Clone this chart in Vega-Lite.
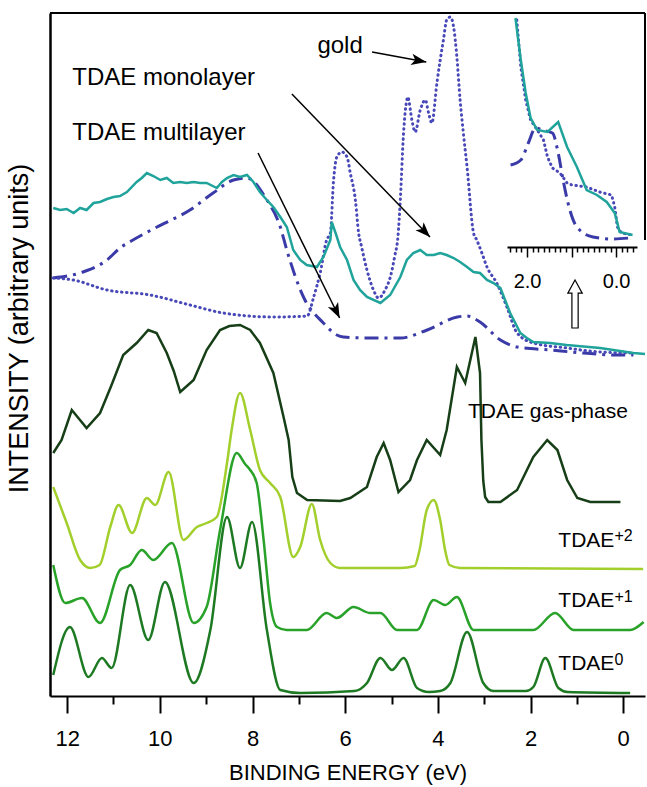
{
  "$schema": "https://vega.github.io/schema/vega-lite/v6.json",
  "width": 595,
  "height": 683,
  "autosize": {"type": "none"},
  "padding": {"left": 50, "top": 13, "right": 2, "bottom": 91},
  "config": {"font": "Liberation Sans", "view": {"stroke": null}, "axis": {"grid": false}},
  "datasets": {
    "spectra": [
      {"s":"gold","e":12.30,"i":418},{"s":"gold","e":11.87,"i":416},{"s":"gold","e":11.14,"i":406},{"s":"gold","e":10.21,"i":401},{"s":"gold","e":9.35,"i":391},{"s":"gold","e":8.63,"i":383},{"s":"gold","e":7.55,"i":379},{"s":"gold","e":6.82,"i":380},{"s":"gold","e":6.68,"i":399},{"s":"gold","e":6.54,"i":423},{"s":"gold","e":6.40,"i":456},{"s":"gold","e":6.32,"i":463},{"s":"gold","e":6.25,"i":516},{"s":"gold","e":6.18,"i":539},{"s":"gold","e":6.07,"i":544},{"s":"gold","e":5.96,"i":539},{"s":"gold","e":5.89,"i":523},{"s":"gold","e":5.78,"i":496},{"s":"gold","e":5.71,"i":463},{"s":"gold","e":5.65,"i":450},{"s":"gold","e":5.53,"i":426},{"s":"gold","e":5.39,"i":406},{"s":"gold","e":5.28,"i":398},{"s":"gold","e":5.14,"i":406},{"s":"gold","e":5.02,"i":420},{"s":"gold","e":4.93,"i":440},{"s":"gold","e":4.86,"i":460},{"s":"gold","e":4.81,"i":496},{"s":"gold","e":4.74,"i":563},{"s":"gold","e":4.67,"i":596},{"s":"gold","e":4.65,"i":599},{"s":"gold","e":4.56,"i":576},{"s":"gold","e":4.49,"i":564},{"s":"gold","e":4.38,"i":586},{"s":"gold","e":4.27,"i":596},{"s":"gold","e":4.20,"i":583},{"s":"gold","e":4.13,"i":573},{"s":"gold","e":4.02,"i":613},{"s":"gold","e":3.95,"i":636},{"s":"gold","e":3.88,"i":656},{"s":"gold","e":3.81,"i":676},{"s":"gold","e":3.73,"i":679},{"s":"gold","e":3.66,"i":669},{"s":"gold","e":3.59,"i":639},{"s":"gold","e":3.52,"i":596},{"s":"gold","e":3.45,"i":563},{"s":"gold","e":3.37,"i":529},{"s":"gold","e":3.23,"i":463},{"s":"gold","e":3.16,"i":456},{"s":"gold","e":3.05,"i":443},{"s":"gold","e":2.94,"i":429},{"s":"gold","e":2.73,"i":413},{"s":"gold","e":2.51,"i":389},{"s":"gold","e":2.29,"i":363},{"s":"gold","e":1.94,"i":353},{"s":"gold","e":1.22,"i":348},{"s":"gold","e":0.50,"i":344},{"s":"gold","e":-0.22,"i":343},
      {"s":"teal","e":12.30,"i":488},{"s":"teal","e":12.15,"i":486},{"s":"teal","e":12.01,"i":487},{"s":"teal","e":11.86,"i":483},{"s":"teal","e":11.72,"i":488},{"s":"teal","e":11.58,"i":486},{"s":"teal","e":11.43,"i":493},{"s":"teal","e":11.29,"i":494},{"s":"teal","e":11.14,"i":497},{"s":"teal","e":11.00,"i":499},{"s":"teal","e":10.86,"i":500},{"s":"teal","e":10.71,"i":504},{"s":"teal","e":10.50,"i":514},{"s":"teal","e":10.39,"i":518},{"s":"teal","e":10.28,"i":523},{"s":"teal","e":10.14,"i":520},{"s":"teal","e":9.99,"i":516},{"s":"teal","e":9.85,"i":518},{"s":"teal","e":9.71,"i":513},{"s":"teal","e":9.56,"i":514},{"s":"teal","e":9.42,"i":513},{"s":"teal","e":9.27,"i":514},{"s":"teal","e":9.13,"i":513},{"s":"teal","e":8.99,"i":513},{"s":"teal","e":8.77,"i":508},{"s":"teal","e":8.66,"i":514},{"s":"teal","e":8.55,"i":518},{"s":"teal","e":8.41,"i":521},{"s":"teal","e":8.27,"i":519},{"s":"teal","e":8.12,"i":521},{"s":"teal","e":7.98,"i":514},{"s":"teal","e":7.84,"i":504},{"s":"teal","e":7.69,"i":496},{"s":"teal","e":7.55,"i":489},{"s":"teal","e":7.40,"i":479},{"s":"teal","e":7.26,"i":469},{"s":"teal","e":7.12,"i":446},{"s":"teal","e":6.97,"i":436},{"s":"teal","e":6.83,"i":431},{"s":"teal","e":6.61,"i":429},{"s":"teal","e":6.47,"i":439},{"s":"teal","e":6.32,"i":456},{"s":"teal","e":6.29,"i":474},{"s":"teal","e":6.20,"i":462},{"s":"teal","e":6.11,"i":449},{"s":"teal","e":5.96,"i":436},{"s":"teal","e":5.82,"i":416},{"s":"teal","e":5.68,"i":406},{"s":"teal","e":5.53,"i":399},{"s":"teal","e":5.24,"i":393},{"s":"teal","e":5.03,"i":401},{"s":"teal","e":4.81,"i":419},{"s":"teal","e":4.67,"i":436},{"s":"teal","e":4.53,"i":443},{"s":"teal","e":4.38,"i":446},{"s":"teal","e":4.24,"i":441},{"s":"teal","e":4.09,"i":441},{"s":"teal","e":3.95,"i":443},{"s":"teal","e":3.81,"i":441},{"s":"teal","e":3.66,"i":438},{"s":"teal","e":3.52,"i":434},{"s":"teal","e":3.37,"i":429},{"s":"teal","e":3.23,"i":424},{"s":"teal","e":3.09,"i":423},{"s":"teal","e":2.94,"i":416},{"s":"teal","e":2.80,"i":413},{"s":"teal","e":2.65,"i":408},{"s":"teal","e":2.55,"i":396},{"s":"teal","e":2.44,"i":383},{"s":"teal","e":2.22,"i":363},{"s":"teal","e":2.08,"i":358},{"s":"teal","e":1.94,"i":354},{"s":"teal","e":1.58,"i":353},{"s":"teal","e":1.22,"i":351},{"s":"teal","e":0.50,"i":348},{"s":"teal","e":-0.22,"i":343},{"s":"teal","e":-0.47,"i":342},
      {"s":"multi","e":12.30,"i":418},{"s":"multi","e":11.66,"i":424},{"s":"multi","e":11.14,"i":436},{"s":"multi","e":10.86,"i":448},{"s":"multi","e":10.58,"i":456},{"s":"multi","e":10.06,"i":469},{"s":"multi","e":9.35,"i":486},{"s":"multi","e":8.85,"i":503},{"s":"multi","e":8.41,"i":516},{"s":"multi","e":8.12,"i":518},{"s":"multi","e":7.69,"i":496},{"s":"multi","e":7.40,"i":469},{"s":"multi","e":7.26,"i":446},{"s":"multi","e":6.90,"i":399},{"s":"multi","e":6.47,"i":373},{"s":"multi","e":6.18,"i":361},{"s":"multi","e":6.04,"i":359},{"s":"multi","e":5.53,"i":358},{"s":"multi","e":4.81,"i":358},{"s":"multi","e":4.23,"i":366},{"s":"multi","e":3.58,"i":379},{"s":"multi","e":3.37,"i":380},{"s":"multi","e":3.09,"i":374},{"s":"multi","e":2.65,"i":356},{"s":"multi","e":2.29,"i":349},{"s":"multi","e":1.58,"i":346},{"s":"multi","e":0.86,"i":343},{"s":"multi","e":0.13,"i":341},{"s":"multi","e":-0.22,"i":341},
      {"s":"gas","e":12.30,"i":243},{"s":"gas","e":12.12,"i":256},{"s":"gas","e":11.90,"i":286},{"s":"gas","e":11.58,"i":268},{"s":"gas","e":11.29,"i":283},{"s":"gas","e":11.05,"i":310},{"s":"gas","e":10.79,"i":341},{"s":"gas","e":10.50,"i":353},{"s":"gas","e":10.25,"i":366},{"s":"gas","e":10.07,"i":363},{"s":"gas","e":9.85,"i":343},{"s":"gas","e":9.70,"i":325},{"s":"gas","e":9.56,"i":304},{"s":"gas","e":9.27,"i":316},{"s":"gas","e":8.99,"i":346},{"s":"gas","e":8.70,"i":366},{"s":"gas","e":8.50,"i":370},{"s":"gas","e":8.27,"i":371},{"s":"gas","e":8.05,"i":366},{"s":"gas","e":7.84,"i":353},{"s":"gas","e":7.55,"i":323},{"s":"gas","e":7.33,"i":279},{"s":"gas","e":7.22,"i":256},{"s":"gas","e":7.14,"i":219},{"s":"gas","e":7.04,"i":203},{"s":"gas","e":6.82,"i":196},{"s":"gas","e":6.11,"i":195},{"s":"gas","e":5.89,"i":198},{"s":"gas","e":5.53,"i":209},{"s":"gas","e":5.32,"i":239},{"s":"gas","e":5.17,"i":253},{"s":"gas","e":5.03,"i":236},{"s":"gas","e":4.85,"i":204},{"s":"gas","e":4.60,"i":216},{"s":"gas","e":4.45,"i":236},{"s":"gas","e":4.24,"i":256},{"s":"gas","e":3.95,"i":241},{"s":"gas","e":3.81,"i":266},{"s":"gas","e":3.59,"i":329},{"s":"gas","e":3.41,"i":313},{"s":"gas","e":3.19,"i":359},{"s":"gas","e":3.09,"i":323},{"s":"gas","e":3.06,"i":256},{"s":"gas","e":3.02,"i":215},{"s":"gas","e":2.98,"i":199},{"s":"gas","e":2.91,"i":194},{"s":"gas","e":2.65,"i":194},{"s":"gas","e":2.29,"i":206},{"s":"gas","e":1.94,"i":239},{"s":"gas","e":1.64,"i":256},{"s":"gas","e":1.42,"i":246},{"s":"gas","e":1.21,"i":216},{"s":"gas","e":0.99,"i":198},{"s":"gas","e":0.71,"i":194},{"s":"gas","e":0.06,"i":194},
      {"s":"p2","e":12.30,"i":209},{"s":"p2","e":12.01,"i":173},{"s":"p2","e":11.72,"i":136},{"s":"p2","e":11.50,"i":128},{"s":"p2","e":11.30,"i":131},{"s":"p2","e":11.07,"i":169},{"s":"p2","e":10.89,"i":191},{"s":"p2","e":10.60,"i":163},{"s":"p2","e":10.28,"i":198},{"s":"p2","e":10.10,"i":191},{"s":"p2","e":9.81,"i":224},{"s":"p2","e":9.49,"i":156},{"s":"p2","e":9.20,"i":169},{"s":"p2","e":8.99,"i":173},{"s":"p2","e":8.77,"i":179},{"s":"p2","e":8.55,"i":233},{"s":"p2","e":8.45,"i":266},{"s":"p2","e":8.27,"i":303},{"s":"p2","e":8.05,"i":266},{"s":"p2","e":7.84,"i":226},{"s":"p2","e":7.62,"i":213},{"s":"p2","e":7.40,"i":199},{"s":"p2","e":7.12,"i":139},{"s":"p2","e":6.97,"i":149},{"s":"p2","e":6.72,"i":192},{"s":"p2","e":6.54,"i":156},{"s":"p2","e":6.32,"i":133},{"s":"p2","e":6.11,"i":128},{"s":"p2","e":4.81,"i":128},{"s":"p2","e":4.50,"i":130},{"s":"p2","e":4.40,"i":145},{"s":"p2","e":4.24,"i":186},{"s":"p2","e":4.09,"i":196},{"s":"p2","e":3.95,"i":176},{"s":"p2","e":3.84,"i":145},{"s":"p2","e":3.75,"i":131},{"s":"p2","e":3.52,"i":128},{"s":"p2","e":-0.43,"i":127},
      {"s":"p1","e":12.30,"i":131},{"s":"p1","e":12.04,"i":93},{"s":"p1","e":11.68,"i":98},{"s":"p1","e":11.29,"i":73},{"s":"p1","e":10.86,"i":126},{"s":"p1","e":10.64,"i":131},{"s":"p1","e":10.39,"i":146},{"s":"p1","e":10.14,"i":136},{"s":"p1","e":9.74,"i":153},{"s":"p1","e":9.27,"i":73},{"s":"p1","e":8.99,"i":89},{"s":"p1","e":8.70,"i":166},{"s":"p1","e":8.34,"i":243},{"s":"p1","e":8.16,"i":232},{"s":"p1","e":8.05,"i":226},{"s":"p1","e":7.91,"i":213},{"s":"p1","e":7.76,"i":156},{"s":"p1","e":7.62,"i":93},{"s":"p1","e":7.47,"i":69},{"s":"p1","e":7.26,"i":66},{"s":"p1","e":6.83,"i":66},{"s":"p1","e":6.40,"i":83},{"s":"p1","e":6.18,"i":78},{"s":"p1","e":5.82,"i":89},{"s":"p1","e":5.46,"i":83},{"s":"p1","e":5.24,"i":83},{"s":"p1","e":4.88,"i":66},{"s":"p1","e":4.45,"i":66},{"s":"p1","e":4.09,"i":96},{"s":"p1","e":3.84,"i":91},{"s":"p1","e":3.59,"i":99},{"s":"p1","e":3.23,"i":66},{"s":"p1","e":1.94,"i":66},{"s":"p1","e":1.47,"i":83},{"s":"p1","e":1.07,"i":66},{"s":"p1","e":-0.15,"i":66},{"s":"p1","e":-0.44,"i":74},
      {"s":"p0","e":12.30,"i":21},{"s":"p0","e":11.94,"i":69},{"s":"p0","e":11.54,"i":19},{"s":"p0","e":11.25,"i":38},{"s":"p0","e":11.04,"i":28},{"s":"p0","e":10.64,"i":111},{"s":"p0","e":10.25,"i":56},{"s":"p0","e":9.89,"i":114},{"s":"p0","e":9.27,"i":13},{"s":"p0","e":8.91,"i":66},{"s":"p0","e":8.55,"i":179},{"s":"p0","e":8.27,"i":128},{"s":"p0","e":8.01,"i":174},{"s":"p0","e":7.69,"i":66},{"s":"p0","e":7.40,"i":6},{"s":"p0","e":6.97,"i":3},{"s":"p0","e":5.80,"i":5},{"s":"p0","e":5.53,"i":13},{"s":"p0","e":5.24,"i":38},{"s":"p0","e":4.99,"i":26},{"s":"p0","e":4.74,"i":38},{"s":"p0","e":4.45,"i":8},{"s":"p0","e":4.20,"i":4},{"s":"p0","e":3.95,"i":5},{"s":"p0","e":3.73,"i":13},{"s":"p0","e":3.37,"i":64},{"s":"p0","e":3.02,"i":13},{"s":"p0","e":2.80,"i":5},{"s":"p0","e":2.10,"i":5},{"s":"p0","e":1.94,"i":9},{"s":"p0","e":1.68,"i":38},{"s":"p0","e":1.40,"i":8},{"s":"p0","e":1.20,"i":4},{"s":"p0","e":-0.15,"i":3}
    ],
    "inset": [
      {"s":"ig","e":2.23,"i":676},{"s":"ig","e":2.14,"i":629},{"s":"ig","e":2.03,"i":596},{"s":"ig","e":1.92,"i":576},{"s":"ig","e":1.77,"i":566},{"s":"ig","e":1.63,"i":556},{"s":"ig","e":1.54,"i":539},{"s":"ig","e":1.43,"i":528},{"s":"ig","e":1.26,"i":523},{"s":"ig","e":1.10,"i":513},{"s":"ig","e":0.99,"i":511},{"s":"ig","e":0.66,"i":509},{"s":"ig","e":0.37,"i":504},{"s":"ig","e":0.10,"i":501},{"s":"ig","e":0.03,"i":489},{"s":"ig","e":-0.03,"i":469},{"s":"ig","e":-0.12,"i":463},{"s":"ig","e":-0.37,"i":461},
      {"s":"it","e":2.26,"i":678},{"s":"it","e":2.14,"i":636},{"s":"it","e":2.03,"i":603},{"s":"it","e":1.92,"i":578},{"s":"it","e":1.77,"i":566},{"s":"it","e":1.54,"i":564},{"s":"it","e":1.30,"i":574},{"s":"it","e":1.10,"i":549},{"s":"it","e":0.88,"i":529},{"s":"it","e":0.66,"i":506},{"s":"it","e":0.43,"i":501},{"s":"it","e":0.21,"i":494},{"s":"it","e":0.03,"i":483},{"s":"it","e":-0.08,"i":464},{"s":"it","e":-0.37,"i":461},
      {"s":"im","e":2.37,"i":531},{"s":"im","e":2.14,"i":536},{"s":"im","e":1.97,"i":553},{"s":"im","e":1.81,"i":568},{"s":"im","e":1.66,"i":566},{"s":"im","e":1.43,"i":563},{"s":"im","e":1.30,"i":543},{"s":"im","e":1.19,"i":516},{"s":"im","e":1.08,"i":493},{"s":"im","e":0.88,"i":469},{"s":"im","e":0.52,"i":459},{"s":"im","e":0.08,"i":457},{"s":"im","e":-0.30,"i":458}
    ],
    "frame": [
      {"e": 12.37, "e2": -0.47, "i": 683, "i2": 683},
      {"e": -0.47, "e2": -0.47, "i": 683, "i2": 456}
    ],
    "arrows": [
      {"a": "gold", "e": 5.42, "i": 644, "e2": 4.25, "i2": 634},
      {"a": "mono", "e": 7.15, "i": 602, "e2": 4.17, "i2": 459},
      {"a": "multi", "e": 7.88, "i": 543, "e2": 6.12, "i2": 378}
    ],
    "hollow": [{"e": 1.04, "i": 392}],
    "labels": [
      {"g": "big", "t": "gold", "e": 6.60, "i": 643},
      {"g": "big", "t": "TDAE monolayer", "e": 11.89, "i": 611},
      {"g": "big", "t": "TDAE multilayer", "e": 11.89, "i": 556},
      {"g": "mid", "t": "TDAE gas-phase", "e": 3.35, "i": 278},
      {"g": "mid", "t": "TDAE", "e": 1.40, "i": 149},
      {"g": "mid", "t": "TDAE", "e": 1.40, "i": 89},
      {"g": "mid", "t": "TDAE", "e": 1.40, "i": 26},
      {"g": "sup", "t": "+2", "e": 0.19, "i": 155},
      {"g": "sup", "t": "+1", "e": 0.19, "i": 94},
      {"g": "sup", "t": "0", "e": 0.19, "i": 31}
    ]
  },
  "layer": [
    {
      "encoding": {
        "x": {"field": "e", "type": "quantitative",
          "scale": {"domain": [-0.47, 12.37], "reverse": true, "nice": false, "zero": false},
          "axis": {"title": "BINDING ENERGY (eV)", "values": [0,1,2,3,4,5,6,7,8,9,10,11,12],
            "labelExpr": "datum.value % 2 === 0 ? datum.label : ''",
            "tickSize": {"condition": {"test": "datum.value % 2 !== 0", "value": 8}, "value": 17},
            "tickWidth": 2, "tickColor": "black", "domainColor": "black", "domainWidth": 2,
            "labelFontSize": 22, "labelColor": "black", "labelPadding": 15, "labelFlush": false, "labelOverlap": false,
            "titleFontSize": 22, "titleFontWeight": "normal", "titleColor": "black", "titlePadding": 13}},
        "y": {"field": "i", "type": "quantitative",
          "scale": {"domain": [0, 683], "nice": false, "zero": false},
          "axis": {"title": "INTENSITY (arbitrary units)", "ticks": false, "labels": false,
            "domainColor": "black", "domainWidth": 2.5,
            "titleFontSize": 27, "titleFontWeight": "normal", "titleColor": "black",
            "titlePadding": 17, "titleY": 315}},
        "order": {"field": "e", "sort": "descending"}
      },
      "layer": [
        {"data": {"name": "frame"}, "mark": {"type": "rule", "color": "black", "strokeWidth": 2},
         "encoding": {"x2": {"field": "e2"}, "y2": {"field": "i2"}}},
        {"data": {"name": "spectra"}, "transform": [{"filter": "datum.s === 'multi'"}],
         "mark": {"type": "line", "color": "#3a3aa8", "strokeWidth": 3, "strokeDash": [14, 6, 3, 6], "interpolate": "monotone"}},
        {"data": {"name": "spectra"}, "transform": [{"filter": "datum.s === 'gold'"}],
         "mark": {"type": "line", "color": "#4848b8", "strokeWidth": 3, "strokeDash": [0.5, 4.5], "strokeCap": "round", "interpolate": "monotone"}},
        {"data": {"name": "spectra"}, "transform": [{"filter": "datum.s === 'teal'"}],
         "mark": {"type": "line", "color": "#1fa39b", "strokeWidth": 2.5}},
        {"data": {"name": "spectra"}, "transform": [{"filter": "datum.s === 'gas'"}],
         "mark": {"type": "line", "color": "#173f17", "strokeWidth": 2.5}},
        {"data": {"name": "spectra"}, "transform": [{"filter": "datum.s === 'p2'"}],
         "mark": {"type": "line", "color": "#a2cf2c", "strokeWidth": 2.5, "interpolate": "monotone"}},
        {"data": {"name": "spectra"}, "transform": [{"filter": "datum.s === 'p1'"}],
         "mark": {"type": "line", "color": "#28a228", "strokeWidth": 2.5, "interpolate": "monotone"}},
        {"data": {"name": "spectra"}, "transform": [{"filter": "datum.s === 'p0'"}],
         "mark": {"type": "line", "color": "#1e7a22", "strokeWidth": 2.5, "interpolate": "monotone"}},
        {"data": {"name": "arrows"}, "mark": {"type": "rule", "color": "black", "strokeWidth": 1.5},
         "encoding": {"x2": {"field": "e2"}, "y2": {"field": "i2"}}},
        {"data": {"name": "arrows"}, "transform": [{"filter": "datum.a === 'gold'"}],
         "mark": {"type": "point", "shape": "M 0 0 L -1 -0.38 L -0.75 0 L -1 0.38 Z", "size": 900, "filled": true, "color": "black", "opacity": 1, "angle": 10.4},
         "encoding": {"x": {"field": "e2", "type": "quantitative"}, "y": {"field": "i2", "type": "quantitative"}}},
        {"data": {"name": "arrows"}, "transform": [{"filter": "datum.a === 'mono'"}],
         "mark": {"type": "point", "shape": "M 0 0 L -1 -0.38 L -0.75 0 L -1 0.38 Z", "size": 900, "filled": true, "color": "black", "opacity": 1, "angle": 45.8},
         "encoding": {"x": {"field": "e2", "type": "quantitative"}, "y": {"field": "i2", "type": "quantitative"}}},
        {"data": {"name": "arrows"}, "transform": [{"filter": "datum.a === 'multi'"}],
         "mark": {"type": "point", "shape": "M 0 0 L -1 -0.38 L -0.75 0 L -1 0.38 Z", "size": 900, "filled": true, "color": "black", "opacity": 1, "angle": 63.7},
         "encoding": {"x": {"field": "e2", "type": "quantitative"}, "y": {"field": "i2", "type": "quantitative"}}},
        {"data": {"name": "hollow"},
         "mark": {"type": "point", "shape": "M 0 -1 L 0.3 -0.45 L 0.13 -0.45 L 0.13 1 L -0.13 1 L -0.13 -0.45 L -0.3 -0.45 Z", "size": 2304, "filled": true, "fill": "white", "stroke": "black", "strokeWidth": 1.2, "opacity": 1}},
        {"data": {"name": "labels"}, "transform": [{"filter": "datum.g === 'big'"}],
         "mark": {"type": "text", "align": "left", "baseline": "alphabetic", "fontSize": 24, "color": "black"},
         "encoding": {"text": {"field": "t"}}},
        {"data": {"name": "labels"}, "transform": [{"filter": "datum.g === 'mid'"}],
         "mark": {"type": "text", "align": "left", "baseline": "alphabetic", "fontSize": 21, "color": "black"},
         "encoding": {"text": {"field": "t"}}},
        {"data": {"name": "labels"}, "transform": [{"filter": "datum.g === 'sup'"}],
         "mark": {"type": "text", "align": "left", "baseline": "alphabetic", "fontSize": 16, "color": "black"},
         "encoding": {"text": {"field": "t"}}}
      ]
    },
    {
      "data": {"name": "inset"},
      "encoding": {
        "x": {"field": "e", "type": "quantitative",
          "scale": {"domain": [-0.47, 2.45], "range": [587, 457], "nice": false, "zero": false},
          "axis": {"orient": "bottom", "offset": -449, "title": null,
            "values": [-0.375,-0.25,-0.125,0,0.125,0.25,0.375,0.5,0.625,0.75,0.875,1,1.125,1.25,1.375,1.5,1.625,1.75,1.875,2,2.125,2.25,2.375],
            "labelExpr": "datum.value === 0 || datum.value === 2 ? format(datum.value, '.1f') : ''",
            "tickSize": {"condition": {"test": "abs(datum.value - round(datum.value)) < 0.01", "value": 10}, "value": 5},
            "tickWidth": 1.5, "tickColor": "black", "domainColor": "black", "domainWidth": 2,
            "labelFontSize": 20, "labelColor": "black", "labelPadding": 14, "labelFlush": false, "labelOverlap": false}},
        "y": {"field": "i", "type": "quantitative", "scale": {"domain": [0, 683], "nice": false, "zero": false}, "axis": null},
        "order": {"field": "e", "sort": "descending"}
      },
      "layer": [
        {"transform": [{"filter": "datum.s === 'im'"}],
         "mark": {"type": "line", "color": "#3a3aa8", "strokeWidth": 3, "strokeDash": [14, 6, 3, 6], "interpolate": "monotone"}},
        {"transform": [{"filter": "datum.s === 'ig'"}],
         "mark": {"type": "line", "color": "#4848b8", "strokeWidth": 3, "strokeDash": [0.5, 4.5], "strokeCap": "round"}},
        {"transform": [{"filter": "datum.s === 'it'"}],
         "mark": {"type": "line", "color": "#1fa39b", "strokeWidth": 2.5}}
      ]
    }
  ],
  "resolve": {"scale": {"x": "independent"}, "axis": {"x": "independent", "y": "independent"}}
}
